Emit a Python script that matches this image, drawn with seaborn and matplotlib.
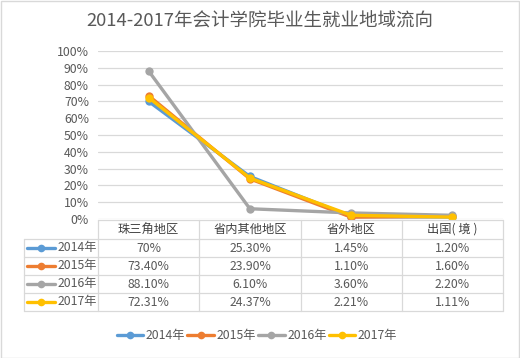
import matplotlib
matplotlib.use("Agg")
import matplotlib.pyplot as plt
import seaborn as sns
import pandas as pd
from matplotlib.lines import Line2D
from matplotlib.patches import Rectangle

categories = ["珠三角地区", "省内其他地区", "省外地区", "出国（境）"]
years = ["2014年", "2015年", "2016年", "2017年"]
v2014 = [70.0, 25.30, 1.45, 1.20]
v2015 = [73.40, 23.90, 1.10, 1.60]
v2016 = [88.10, 6.10, 3.60, 2.20]
v2017 = [72.31, 24.37, 2.21, 1.11]
table_labels = [
    ["70%", "25.30%", "1.45%", "1.20%"],
    ["73.40%", "23.90%", "1.10%", "1.60%"],
    ["88.10%", "6.10%", "3.60%", "2.20%"],
    ["72.31%", "24.37%", "2.21%", "1.11%"],
]
header_labels = ["珠三角地区", "省内其他地区", "省外地区", "出国( 境 )"]
colors = ["#5B9BD5", "#ED7D31", "#A5A5A5", "#FFC000"]
title = "2014-2017年会计学院毕业生就业地域流向"

sns.set_style("white")
plt.rcParams['font.family'] = ['Noto Sans CJK SC', 'DejaVu Sans']

rows = []
for y, vals in zip(years, [v2014, v2015, v2016, v2017]):
    for c, v in zip(categories, vals):
        rows.append({"地区": c, "年份": y, "比例": v / 100})
df = pd.DataFrame(rows)

W, H = 520, 358
fig = plt.figure(figsize=(W / 100, H / 100), dpi=100)

def fx(x):
    return x / W

def fy(y):
    return 1 - y / H

left, right, top, bottom = 98, 503, 51, 219
ax = fig.add_axes([fx(left), fy(bottom), fx(right - left), (bottom - top) / H])

sns.lineplot(data=df, x="地区", y="比例", hue="年份", palette=colors, ax=ax,
             marker="o", markersize=6, markeredgewidth=0, linewidth=2.4,
             legend=False, zorder=3)

ax.set_xlim(-0.5, 3.5)
ax.set_ylim(0, 1.0)
ax.set_yticks([i / 10 for i in range(11)])
ax.set_yticklabels([f"{i * 10}%" for i in range(11)], color="#595959", fontsize=8.8)
ax.tick_params(axis="y", length=0, pad=6.5)
ax.set_xticks([])
ax.set_xlabel("")
ax.set_ylabel("")
ax.grid(axis="y", color="#D9D9D9", linewidth=0.9)
for s in ax.spines.values():
    s.set_visible(False)

# title
fig.text(0.499, fy(22), title, ha="center", va="center", fontsize=13.3, color="#595959")

# data table
line_kw = dict(color="#D9D9D9", linewidth=0.9, transform=fig.transFigure)
col_x = [98, 199, 301, 402, 503]
row_y = [220, 239, 257, 275, 293, 311]
tab_left = 24
fig.add_artist(Line2D([fx(98), fx(503)], [fy(220), fy(220)], **line_kw))
for yy in row_y[1:]:
    fig.add_artist(Line2D([fx(tab_left), fx(503)], [fy(yy), fy(yy)], **line_kw))
for xx in col_x:
    fig.add_artist(Line2D([fx(xx), fx(xx)], [fy(220), fy(311)], **line_kw))
fig.add_artist(Line2D([fx(tab_left), fx(tab_left)], [fy(239), fy(311)], **line_kw))

for i, h in enumerate(header_labels):
    cx = (col_x[i] + col_x[i + 1]) / 2
    fig.text(fx(cx), fy(229.5), h, ha="center", va="center", fontsize=8.8, color="#404040")

for r, (yl, labs, col) in enumerate(zip(years, table_labels, colors)):
    cy = (row_y[r + 1] + row_y[r + 2]) / 2
    fig.add_artist(Line2D([fx(27), fx(55)], [fy(cy), fy(cy)], color=col, linewidth=2.4,
                          transform=fig.transFigure))
    fig.add_artist(Line2D([fx(41)], [fy(cy)], color=col, marker="o", markersize=5.5,
                          markeredgewidth=0, linestyle="none", transform=fig.transFigure))
    fig.text(fx(58), fy(cy), yl, ha="left", va="center", fontsize=8.8, color="#595959")
    for i, lab in enumerate(labs):
        cx = (col_x[i] + col_x[i + 1]) / 2
        fig.text(fx(cx), fy(cy), lab, ha="center", va="center", fontsize=8.8, color="#595959")

# legend
handles = [Line2D([], [], color=c, linewidth=2.4, marker="o", markersize=5.5,
                  markeredgewidth=0) for c in colors]
fig.legend(handles, years, loc="center", bbox_to_anchor=(fx(257), fy(336)), ncol=4,
           frameon=False, fontsize=8.8, handlelength=2.2, columnspacing=0.15,
           handletextpad=0.2, labelcolor="#595959")

# outer border
fig.add_artist(Rectangle((0.001, 0.001), 0.997, 0.997, transform=fig.transFigure,
                         fill=False, edgecolor="#D9D9D9", linewidth=1))

fig.savefig("out.png", dpi=100)
